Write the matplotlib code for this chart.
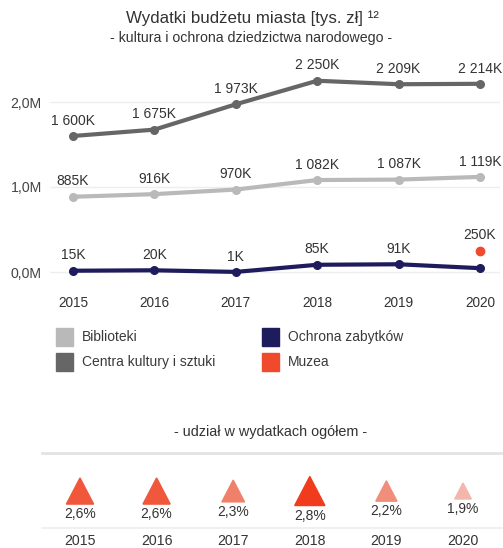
import matplotlib
matplotlib.use("Agg")
import matplotlib.pyplot as plt
from matplotlib.patches import Rectangle
from matplotlib.colors import LinearSegmentedColormap, Normalize
import numpy as np

plt.rcParams['font.family'] = ['Liberation Sans', 'DejaVu Sans']

years = [2015, 2016, 2017, 2018, 2019, 2020]
series_names = ["Biblioteki", "Centra kultury i sztuki", "Ochrona zabytków", "Muzea"]
series_colors = ["#b9b9b9", "#666666", "#1e1c5c", "#f04a2c"]
biblioteki = [885, 916, 970, 1082, 1087, 1119]          # tys. zł
centra = [1600, 1675, 1973, 2250, 2209, 2214]
ochrona = [15, 20, 1, 85, 91, 45]
muzea = [None, None, None, None, None, 250]
udzial = [2.6, 2.6, 2.3, 2.8, 2.2, 1.9]                 # %
yticks_m = [0.0, 1.0, 2.0]

W, H = 503, 548
fig = plt.figure(figsize=(W / 100, H / 100), dpi=100)
fig.patch.set_facecolor("white")

def px_rect(x0, y0, x1, y1):
    return [x0 / W, 1 - y1 / H, (x1 - x0) / W, (y1 - y0) / H]

TXT = "#333333"
FS = 10

# ---------- top line chart ----------
ax = fig.add_axes(px_rect(50, 75, 500, 285))
x_first, x_last = 73, 480
pxy = (x_last - x_first) / (years[-1] - years[0])
ax.set_xlim(years[0] - (x_first - 50) / pxy, years[-1] + (500 - x_last) / pxy)
y0px, per_m = 272, 85
ax.set_ylim(-(285 - y0px) / per_m * 1000, (y0px - 75) / per_m * 1000)
for s in ax.spines.values():
    s.set_visible(False)
ax.set_yticks([v * 1000 for v in yticks_m])
ax.set_yticklabels([f"{v:.1f}M".replace(".", ",") for v in yticks_m], fontsize=10.2, color="#444444")
ax.set_xticks(years)
ax.set_xticklabels([str(y) for y in years], fontsize=9.8, color=TXT)
ax.tick_params(length=0, pad=8)
ax.tick_params(axis='y', pad=6)
ax.grid(axis='y', color="#eeeeee", linewidth=1)
ax.set_axisbelow(True)

def fmt(v):
    return f"{v:,}".replace(",", " ") + "K"

data = [biblioteki, centra, ochrona]
for vals, col in zip(data, series_colors[:3]):
    ax.plot(years, vals, color=col, linewidth=3, marker='o', markersize=5.5, zorder=3,
            solid_capstyle='round')

for vals in data:
    for i, (x, v) in enumerate(zip(years, vals)):
        if vals is ochrona and muzea[i] is not None:
            continue
        ax.annotate(fmt(v), (x, v), xytext=(0, 11), textcoords='offset points',
                    ha='center', va='center', fontsize=FS, color=TXT)

for x, v in zip(years, muzea):
    if v is None:
        continue
    ax.plot([x], [v], 'o', color=series_colors[3], markersize=6, zorder=4)
    ax.annotate(fmt(v), (x, v), xytext=(0, 11.5), textcoords='offset points',
                ha='center', va='center', fontsize=FS, color=TXT)

# ---------- titles ----------
fig.text(252 / W, 1 - 18 / H, "Wydatki budżetu miasta [tys. zł] ¹²", ha='center', va='center',
         fontsize=12.2, color=TXT)
fig.text(251 / W, 1 - 38 / H, "- kultura i ochrona dziedzictwa narodowego -", ha='center',
         va='center', fontsize=10.2, color=TXT)

# ---------- legend ----------
leg_pos = [(56, 337), (56, 362), (262, 337), (262, 362)]
for (lx, ly), name, col in zip(leg_pos, series_names, series_colors):
    fig.patches.append(Rectangle((lx / W, 1 - (ly + 9) / H), 17 / W, 18 / H,
                                 transform=fig.transFigure, color=col))
    fig.text((lx + 26) / W, 1 - ly / H, name, ha='left', va='center', fontsize=FS, color="#3a3a3a")

# ---------- bottom share panel ----------
fig.text(271 / W, 1 - 432 / H, "- udział w wydatkach ogółem -", ha='center', va='center',
         fontsize=10.4, color=TXT)
fig.add_artist(plt.Line2D([42 / W, 1], [1 - 453 / H] * 2, color="#e3e3e3", linewidth=2))
fig.add_artist(plt.Line2D([42 / W, 1], [1 - 528 / H] * 2, color="#eeeeee", linewidth=1.2))

bx = fig.add_axes(px_rect(0, 455, W, 548))
bx.set_xlim(0, W)
bx.set_ylim(548, 455)
bx.axis('off')
b_first, b_last = 80, 463
b_step = (b_last - b_first) / (len(years) - 1)
cmap = LinearSegmentedColormap.from_list("sh", ["#f2b6aa", "#f03c1c"])
norm = Normalize(vmin=min(udzial), vmax=max(udzial))
for i, (y, v) in enumerate(zip(years, udzial)):
    cx = b_first + i * b_step
    size = 16 + (v - min(udzial)) * 14.5   # triangle height in px
    half = size * 0.52
    cy = 491
    tri = plt.Polygon([[cx - half, cy + size / 2], [cx + half, cy + size / 2], [cx, cy - size / 2]],
                      closed=True, color=cmap(norm(v)))
    bx.add_patch(tri)
    bx.text(cx, cy + size / 2 + 3, f"{v:.1f}%".replace(".", ","), ha='center', va='top',
            fontsize=10, color=TXT)
    bx.text(cx, 541, str(y), ha='center', va='center', fontsize=10.2, color=TXT)

fig.savefig("out.png", dpi=100, facecolor="white")
